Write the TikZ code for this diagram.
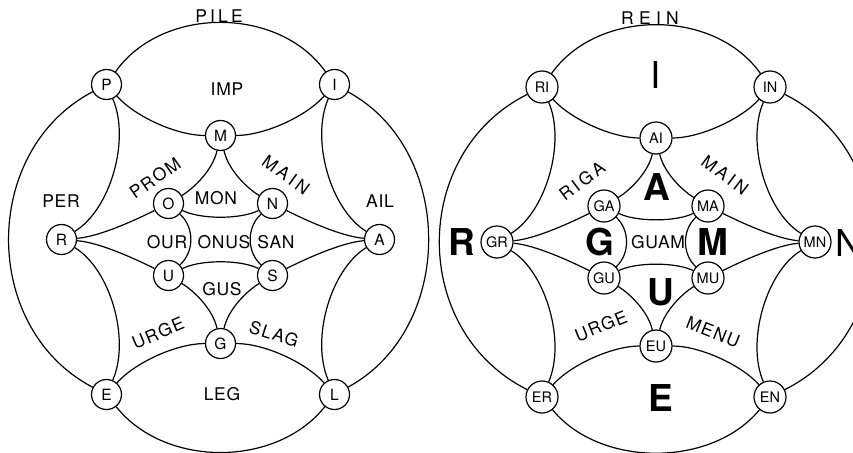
\documentclass[tikz,border=0pt]{standalone}
\usepackage{fontspec}
\setmainfont{TeX Gyre Heros}
\tikzset{
  link/.style={line width=1.2pt},
  vtx/.style={circle, draw, line width=1.2pt, fill=white, inner sep=0pt,
    minimum size=30pt, font=\fontsize{15.5}{16}\selectfont},
  vtxw/.style={vtx, minimum size=32pt, font=\fontsize{14.5}{15}\selectfont},
  word/.style={inner sep=0pt, font=\fontsize{17.5}{18}\selectfont\addfontfeature{LetterSpace=4}},
  wide/.style={inner sep=0pt, font=\fontsize{17.5}{18}\selectfont\addfontfeature{LetterSpace=#1}},
  big/.style={inner sep=0pt, font=\fontsize{37}{40}\selectfont\bfseries},
  bigthin/.style={inner sep=0pt, font=\fontsize{37}{40}\selectfont},
}
\begin{document}
\begin{tikzpicture}[x=1pt,y=1pt]
\fill[white] (0,0) rectangle (853,-452);
\useasboundingbox (0,0) rectangle (853,-452);

% vertices of the left graph
\begin{scope}[shift={(220.5,-239.5)}]
  \node[vtx] (a-tl) at (-114,155) {P};
  \node[vtx] (a-tr) at (114,155) {I};
  \node[vtx] (a-tm) at (0,104) {M};
  \node[vtx] (a-ul) at (-52,36) {O};
  \node[vtx] (a-ur) at (52,36) {N};
  \node[vtx] (a-l) at (-159,0) {R};
  \node[vtx] (a-r) at (159,0) {A};
  \node[vtx] (a-ll) at (-52,-36) {U};
  \node[vtx] (a-lr) at (52,-36) {S};
  \node[vtx] (a-bm) at (0,-104) {G};
  \node[vtx] (a-bl) at (-114,-155) {E};
  \node[vtx] (a-br) at (114,-155) {L};
\end{scope}

% vertices of the right graph
\begin{scope}[shift={(656,-242)}]
  \node[vtxw] (b-tl) at (-114,155) {RI};
  \node[vtxw] (b-tr) at (114,155) {IN};
  \node[vtxw] (b-tm) at (0,104) {AI};
  \node[vtxw] (b-ul) at (-52,36) {GA};
  \node[vtxw] (b-ur) at (52,36) {MA};
  \node[vtxw] (b-l) at (-159,0) {GR};
  \node[vtxw] (b-r) at (159,0) {MN};
  \node[vtxw] (b-ll) at (-52,-36) {GU};
  \node[vtxw] (b-lr) at (52,-36) {MU};
  \node[vtxw] (b-bm) at (0,-104) {EU};
  \node[vtxw] (b-bl) at (-114,-155) {ER};
  \node[vtxw] (b-br) at (114,-155) {EN};
\end{scope}

% edges, identical for both graphs
\foreach \d/\cx/\cy/\lx/\rx/\by in {a/220.5/-239.5/240/235/228.3, b/656/-242/246/246/225.7}{
\begin{scope}[shift={(\cx,\cy)}]
  % outer boundary
  \draw[link] (\d-tl) .. controls (-58.4,233.6) and (58.4,233.6) .. (\d-tr);
  \draw[link] (\d-tr) .. controls (\rx,89) and (\rx,-89) .. (\d-br);
  \draw[link] (\d-br) .. controls (55.7,-\by) and (-55.7,-\by) .. (\d-bl);
  \draw[link] (\d-bl) .. controls (-\lx,-89) and (-\lx,89) .. (\d-tl);
  % arcs through the top and bottom middle vertices
  \draw[link] (\d-tl) .. controls (-85,122.6) and (-43.5,104) .. (\d-tm);
  \draw[link] (\d-tm) .. controls (43.5,104) and (85,122.6) .. (\d-tr);
  \draw[link] (\d-bl) .. controls (-85,-122.6) and (-43.5,-104) .. (\d-bm);
  \draw[link] (\d-bm) .. controls (43.5,-104) and (85,-122.6) .. (\d-br);
  % side arcs to the left and right vertices
  \draw[link] (\d-tl) .. controls (-90,100) and (-110,30) .. (\d-l);
  \draw[link] (\d-bl) .. controls (-90,-100) and (-110,-30) .. (\d-l);
  \draw[link] (\d-tr) .. controls (90,100) and (110,30) .. (\d-r);
  \draw[link] (\d-br) .. controls (90,-100) and (110,-30) .. (\d-r);
  % inner triangles
  \draw[link] (\d-tm) .. controls (-8,69) and (-27,51) .. (\d-ul);
  \draw[link] (\d-tm) .. controls (8,69) and (27,51) .. (\d-ur);
  \draw[link] (\d-bm) .. controls (-8,-69) and (-27,-51) .. (\d-ll);
  \draw[link] (\d-bm) .. controls (8,-69) and (27,-51) .. (\d-lr);
  % inner quadrilateral
  \draw[link] (\d-ul) .. controls (-20,20) and (20,20) .. (\d-ur);
  \draw[link] (\d-ll) .. controls (-20,-20) and (20,-20) .. (\d-lr);
  \draw[link] (\d-ul) .. controls (-26,12) and (-26,-12) .. (\d-ll);
  \draw[link] (\d-ur) .. controls (26,12) and (26,-12) .. (\d-lr);
  % fans to the left and right vertices
  \draw[link] (\d-l) .. controls (-120,3) and (-82,21) .. (\d-ul);
  \draw[link] (\d-l) .. controls (-120,-3) and (-82,-21) .. (\d-ll);
  \draw[link] (\d-r) .. controls (120,3) and (82,21) .. (\d-ur);
  \draw[link] (\d-r) .. controls (120,-3) and (82,-21) .. (\d-lr);
\end{scope}
}

% words of the left graph
\node[wide=18] (w-pile) at (219,-16) {PILE};
\node[word] (w-imp) at (227,-89) {IMP};
\node[word] (w-per) at (61,-201) {PER};
\node[word] (w-ail) at (380,-201) {AIL};
\node[wide=10, rotate=35] (w-prom) at (155,-178) {PROM};
\node[wide=18, rotate=-36] (w-main) at (286,-175) {MAIN};
\node[word] (w-mon) at (216,-198) {MON};
\node[word] (w-our) at (167,-242) {OUR};
\node[word] (w-onus) at (224,-242) {ONUS};
\node[word] (w-san) at (276,-242) {SAN};
\node[word] (w-gus) at (222,-289) {GUS};
\node[wide=8, rotate=23] (w-urge) at (158,-333) {URGE};
\node[wide=8, rotate=-18] (w-slag) at (274,-334) {SLAG};
\node[word] (w-leg) at (222,-394) {LEG};

% words and letters of the right graph
\node[wide=30] (x-rein) at (650,-18) {REIN};
\node[bigthin] (x-i) at (656,-75) {I};
\node[big] (x-a) at (657,-187) {A};
\node[wide=18, rotate=37] (x-riga) at (582,-181) {RIGA};
\node[wide=18, rotate=-37] (x-main) at (725,-175) {MAIN};
\node[big] (x-r) at (462,-242) {R};
\node[big] (x-g) at (600,-242) {G};
\node[word] (x-guam) at (658,-242) {GUAM};
\node[big] (x-m) at (713,-242) {M};
\node[bigthin] (x-n) at (849,-243) {N};
\node[big] (x-u) at (661,-292) {U};
\node[wide=8, rotate=22] (x-urge) at (601,-326) {URGE};
\node[wide=8, rotate=-22] (x-menu) at (713,-332) {MENU};
\node[big] (x-e) at (661,-398) {E};
\end{tikzpicture}
\end{document}
